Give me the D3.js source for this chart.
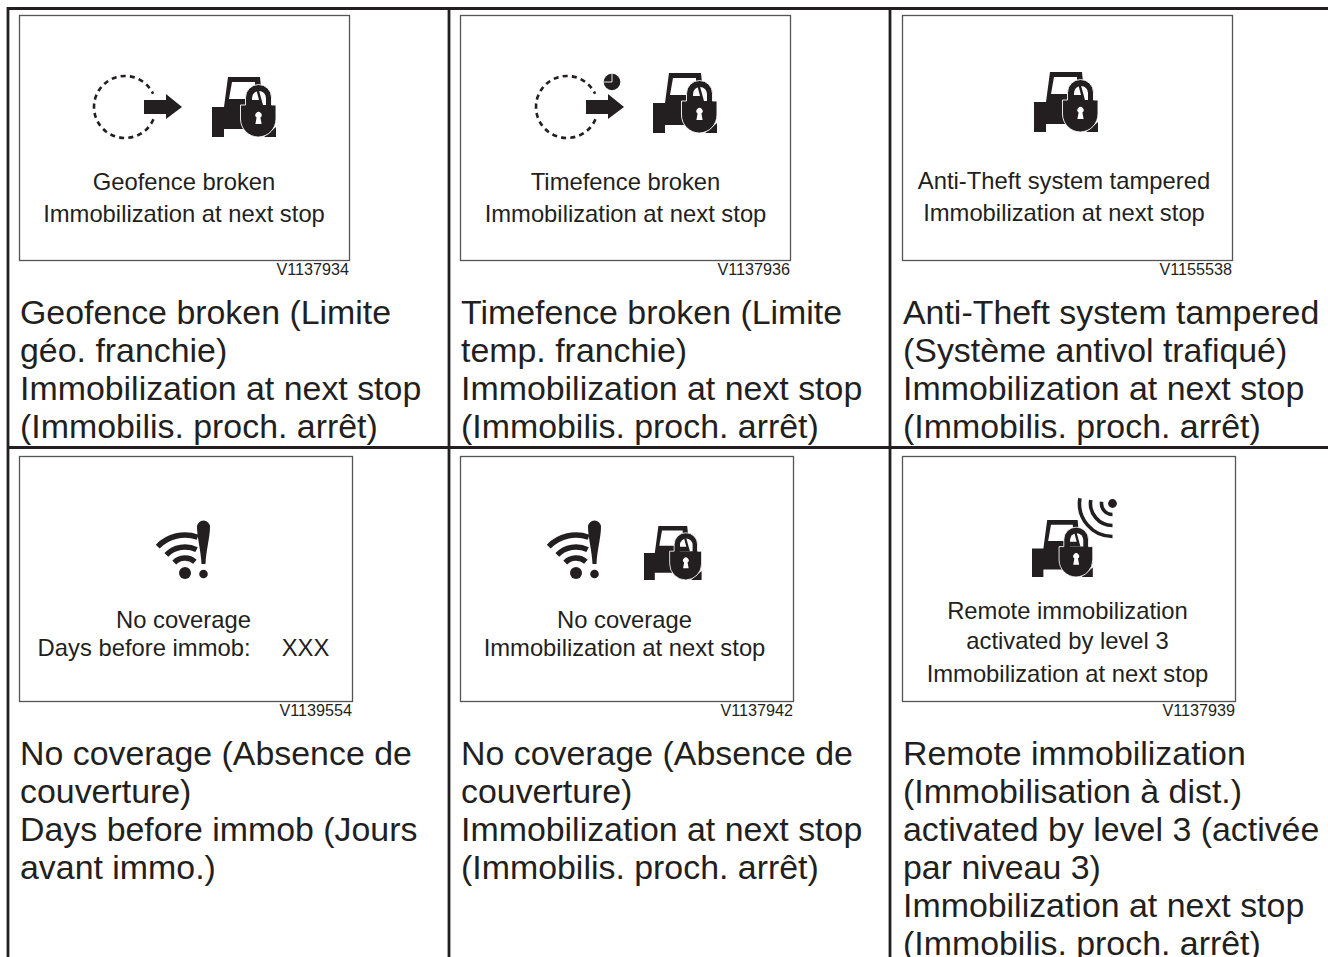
<!DOCTYPE html>
<html>
<head>
<meta charset="utf-8">
<script src="https://cdn.jsdelivr.net/npm/d3@7"></script>
<style>
  html, body { margin: 0; padding: 0; background: #fff; overflow: hidden; }
  text { font-family: "Liberation Sans", Arial, sans-serif; fill: #231f20; white-space: pre; }
</style>
</head>
<body>
<div id="chart"></div>
<script>
// the six panels, left to right, top to bottom
var columns = ["left", "middle", "right"];
var rows = ["top", "bottom"];

var panelColumns = ["left", "middle", "right", "left", "middle", "right"];
var panelRows = ["top", "top", "top", "bottom", "bottom", "bottom"];
var panelCodes = ["V1137934", "V1137936", "V1155538", "V1139554", "V1137942", "V1137939"];
var panelIcons = [
  ["fence", "tractor"],
  ["fence", "clock", "tractor"],
  ["tractor"],
  ["wifi"],
  ["wifi", "tractor"],
  ["tractor", "signal"]
];
var captions = [
  ["Geofence broken", "Immobilization at next stop"],
  ["Timefence broken", "Immobilization at next stop"],
  ["Anti-Theft system tampered", "Immobilization at next stop"],
  ["No coverage", "Days before immob:    \u2009XXX"],
  ["No coverage", "Immobilization at next stop"],
  ["Remote immobilization", "activated by level 3", "Immobilization at next stop"]
];
var descriptions = [
  ["Geofence broken (Limite", "g\u00e9o. franchie)", "Immobilization at next stop", "(Immobilis. proch. arr\u00eat)"],
  ["Timefence broken (Limite", "temp. franchie)", "Immobilization at next stop", "(Immobilis. proch. arr\u00eat)"],
  ["Anti-Theft system tampered", "(Syst\u00e8me antivol trafiqu\u00e9)", "Immobilization at next stop", "(Immobilis. proch. arr\u00eat)"],
  ["No coverage (Absence de", "couverture)", "Days before immob (Jours", "avant immo.)"],
  ["No coverage (Absence de", "couverture)", "Immobilization at next stop", "(Immobilis. proch. arr\u00eat)"],
  ["Remote immobilization", "(Immobilisation \u00e0 dist.)", "activated by level 3 (activ\u00e9e", "par niveau 3)", "Immobilization at next stop", "(Immobilis. proch. arr\u00eat)"]
];

var ink = "#231f20";
var width = 1328, height = 957;

// where the columns and rows of the table sit
var boxLeft = d3.scaleOrdinal().domain(columns).range([19.5, 460.5, 902.5]);
var boxTop = d3.scaleOrdinal().domain(rows).range([15.5, 456.5]);
var boxWidth = d3.scaleOrdinal().domain(rows).range([330, 333]);
var boxHeight = 245;

var svg = d3.select("#chart")
  .append("svg")
    .attr("width", width)
    .attr("height", height)
    .style("display", "block");

// table rules
var ruleX = d3.scaleOrdinal().domain(columns).range([8, 449, 890]);
var ruleY = d3.scaleOrdinal().domain(rows).range([8.5, 447.5]);

svg.selectAll("line.v")
  .data(columns)
  .enter().append("line")
    .attr("class", "v")
    .attr("x1", function(d) { return ruleX(d); })
    .attr("x2", function(d) { return ruleX(d); })
    .attr("y1", 7)
    .attr("y2", height)
    .attr("stroke", ink)
    .attr("stroke-width", 2.8);

svg.selectAll("line.h")
  .data(rows)
  .enter().append("line")
    .attr("class", "h")
    .attr("x1", 7)
    .attr("x2", width)
    .attr("y1", function(d) { return ruleY(d); })
    .attr("y2", function(d) { return ruleY(d); })
    .attr("stroke", ink)
    .attr("stroke-width", 2.8);

var panels = svg.selectAll("g.panel")
  .data(d3.range(panelCodes.length))
  .enter().append("g")
    .attr("class", "panel")
    .attr("transform", function(i) {
      return "translate(" + boxLeft(panelColumns[i]) + "," + boxTop(panelRows[i]) + ")";
    });

panels.append("rect")
    .attr("width", function(i) { return boxWidth(panelRows[i]); })
    .attr("height", boxHeight)
    .attr("fill", "none")
    .attr("stroke", "#555")
    .attr("stroke-width", 1.3);

panels.append("text")
    .attr("x", function(i) { return boxWidth(panelRows[i]) - 0.5; })
    .attr("y", boxHeight + 14.5)
    .attr("text-anchor", "end")
    .attr("font-size", 16.2)
    .text(function(i) { return panelCodes[i]; });

// text inside the box
var captionTop = [174.5, 174.5, 173.5, 171.5, 171.5, 162.5];
var captionGaps = [[0, 32], [0, 32], [0, 32], [0, 27.5], [0, 27.5], [0, 30, 62.5]];
var captionCenter = [164.5, 165, 161.5, 164, 164, 165];

panels.each(function(i) {
  d3.select(this).selectAll("text.caption")
    .data(captions[i])
    .enter().append("text")
      .attr("class", "caption")
      .attr("x", captionCenter[i])
      .attr("y", function(d, k) { return captionTop[i] + captionGaps[i][k]; })
      .attr("text-anchor", "middle")
      .attr("font-size", 23.8)
      .text(function(d) { return d; });

  // text under the box
  d3.select(this).selectAll("text.description")
    .data(descriptions[i])
    .enter().append("text")
      .attr("class", "description")
      .attr("x", 0.5)
      .attr("y", function(d, k) { return 308 + k * 38; })
      .attr("font-size", 33.9)
      .text(function(d) { return d; });
});

// icon drawing, each in its own local coordinates
function drawTractor(g) {
  g.append("path")
    .attr("fill", ink)
    .attr("d", "M16,0 L48,0 L50,20 L50,52 L12,52 L12,60 L0,60 L0,30 L12,30 Z");
  g.append("path")
    .attr("fill", ink)
    .attr("d", "M52,60 L64,60 L64,50 Z");
  g.append("path")
    .attr("fill", "#fff")
    .attr("d", "M20,5 L43,5 L43,22 L17,22 Z");
  // lock with a thin white edge around it
  g.append("path")
    .attr("fill", ink)
    .attr("stroke", "#fff")
    .attr("stroke-width", 0.9)
    .attr("d", "M33.5,28 L33.5,20.5 A13,13 0 0 1 59.5,20.5 L59.5,28 L64,28 L64,42 A18,18 0 0 1 46.5,60 A18,18 0 0 1 28.5,42 L28.5,28 Z");
  // hole of the shackle, with a bit of the cab seen through it
  g.append("path")
    .attr("fill", "#fff")
    .attr("d", "M40,28 L40,21 A7,7 0 0 1 54,21 L54,28 Z");
  g.append("path")
    .attr("fill", ink)
    .attr("d", "M44.5,13.5 L47,13.5 L51,28 L40,28 L40,23 L47,23 Z");
  g.append("path")
    .attr("fill", "#fff")
    .attr("d", "M44.6,40.6 A3.1,3.1 0 1 1 48.4,40.6 L49.6,47 L43.4,47 Z");
}

function drawFence(g) {
  g.append("path")
    .attr("fill", "none")
    .attr("stroke", ink)
    .attr("stroke-width", 2.6)
    .attr("stroke-dasharray", "5 4.2")
    .attr("d", d3.arc()({innerRadius: 31, outerRadius: 31, startAngle: Math.PI * 0.63, endAngle: Math.PI * 2.36}));
  g.append("path")
    .attr("fill", ink)
    .attr("d", "M19,-7 L41,-7 L41,-13 L57,0 L41,12 L41,7 L19,7 Z");
}

function drawClock(g) {
  g.append("circle").attr("r", 8.3).attr("fill", ink);
  g.append("path")
    .attr("fill", "none")
    .attr("stroke", "#fff")
    .attr("stroke-width", 0.9)
    .attr("d", "M0,-8 L0,0 L-8,0");
}

function drawWifi(g) {
  g.append("circle").attr("r", 6).attr("fill", ink);
  [38, 26, 15].forEach(function(r, k) {
    g.append("path")
      .attr("fill", "none")
      .attr("stroke", ink)
      .attr("stroke-width", 5.4)
      .attr("d", d3.arc()({innerRadius: r, outerRadius: r, startAngle: -0.8, endAngle: [0.34, 0.46, 0.72][k]}));
  });
  g.append("path")
    .attr("fill", ink)
    .attr("d", "M12,-46 A6.4,6.4 0 0 1 25,-46 C25,-36 21,-22 20.5,-9 L16.5,-9 C16,-22 12,-36 12,-46 Z");
  g.append("circle").attr("cx", 18.5).attr("cy", 1).attr("r", 4.3).attr("fill", ink);
}

function drawSignal(g) {
  g.append("circle").attr("r", 4.4).attr("fill", ink);
  [11, 22, 33].forEach(function(r) {
    g.append("path")
      .attr("fill", "none")
      .attr("stroke", ink)
      .attr("stroke-width", 3.6)
      .attr("d", d3.arc()({innerRadius: r, outerRadius: r, startAngle: Math.PI * 1.0, endAngle: Math.PI * 1.55}));
  });
}

var iconDraw = {tractor: drawTractor, fence: drawFence, clock: drawClock, wifi: drawWifi, signal: drawSignal};

// icon anchors per panel, relative to the box corner
var iconSpots = [
  {fence: [105.5, 91.5], tractor: [192.5, 61.5, 1]},
  {fence: [106.5, 91.5], clock: [151.5, 66.5], tractor: [192.5, 57.5, 1]},
  {tractor: [131.5, 56.5, 1]},
  {wifi: [165.5, 116.5]},
  {wifi: [115.5, 116.5], tractor: [183.5, 69.5, 0.9]},
  {tractor: [129.5, 63.5, 0.95], signal: [210, 47]}
];

panels.each(function(i) {
  var panel = d3.select(this);
  panelIcons[i].forEach(function(name) {
    var spot = iconSpots[i][name];
    var g = panel.append("g")
      .attr("transform", "translate(" + spot[0] + "," + spot[1] + ")" + (spot[2] ? " scale(" + spot[2] + ")" : ""));
    iconDraw[name](g);
  });
});
</script>
</body>
</html>
